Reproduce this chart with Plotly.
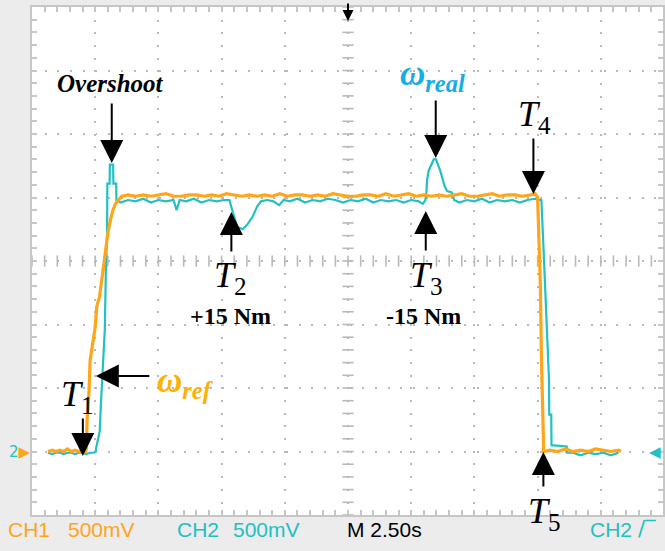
import numpy as np
import plotly.graph_objects as go

# ---------------- data (time in s, voltage in V) ----------------
ORANGE_T = [0.63, 0.8, 0.95, 1.1, 1.25, 1.4, 1.55, 1.7, 1.85, 2.0, 2.12,
            2.15, 2.18, 2.25, 2.30, 2.42, 2.50, 2.56, 2.67, 2.78, 2.86, 2.94, 3.00, 3.10, 3.20, 3.30, 3.42, 3.55,
            3.8, 4.1, 4.4, 4.7, 5.0, 5.3, 5.6, 5.9, 6.2, 6.5, 6.8, 7.1, 7.4, 7.7, 8.0, 8.3, 8.6, 8.9, 9.2, 9.5,
            9.8, 10.1, 10.4, 10.7, 11.0, 11.3, 11.6, 11.9, 12.2, 12.5, 12.8, 13.1, 13.4, 13.7, 14.0, 14.3, 14.6,
            14.9, 15.2, 15.5, 15.8, 16.1, 16.4, 16.7, 17.0, 17.3, 17.6, 17.9, 18.2, 18.5, 18.8, 19.1, 19.4, 19.7, 19.9,
            20.0, 20.03, 20.11, 20.15, 20.24,
            20.5, 20.8, 21.1, 21.4, 21.7, 22.0, 22.3, 22.6, 22.9, 23.2, 23.3]
ORANGE_V = [0.0, 0.01, 0.0, 0.01, 0.0, 0.02, 0.0, 0.01, 0.0, 0.01, 0.0,
            0.02, 0.25, 0.45, 0.72, 0.88, 0.98, 1.14, 1.22, 1.38, 1.51, 1.62, 1.72, 1.82, 1.90, 1.95, 1.98, 2.01,
            2.02, 2.01, 2.02, 2.01, 2.02, 2.03, 2.01, 2.01, 2.02, 2.02, 2.01, 2.02, 2.01, 2.03, 2.02, 2.01, 2.02,
            2.01, 2.02, 2.01, 2.03, 2.01, 2.02, 2.02, 2.01, 2.02, 2.01, 2.03, 2.02, 2.01, 2.01, 2.02, 2.02, 2.01,
            2.03, 2.01, 2.02, 2.03, 2.01, 2.02, 2.01, 2.02, 2.01, 2.02, 2.03, 2.01, 2.01, 2.02, 2.03, 2.01, 2.02,
            2.02, 2.01, 2.02, 2.03,
            2.00, 1.84, 1.30, 0.75, 0.0,
            0.01, 0.0, 0.02, 0.0, 0.01, 0.0, 0.02, 0.01, 0.0, 0.01, 0.0]

CYAN_T = [0.63, 0.8, 0.95, 1.1, 1.25, 1.4, 1.55, 1.7, 1.85, 2.0, 2.15, 2.3, 2.45,
          2.52, 2.55, 2.62, 2.68, 2.72, 2.75, 2.80, 2.85, 2.88, 2.92, 2.95, 2.97, 2.98, 3.07, 3.08, 3.21, 3.22,
          3.33, 3.34,
          3.5, 3.8, 4.1, 4.4, 4.7, 5.0, 5.3, 5.6, 5.72, 5.84, 6.1, 6.4, 6.7, 7.0, 7.3, 7.6,
          7.81, 7.95, 8.12, 8.33, 8.53, 8.73, 8.91, 9.06, 9.3, 9.55, 9.78, 9.95,
          10.2, 10.5, 10.8, 11.1, 11.4, 11.7, 12.0, 12.3, 12.6, 12.9, 13.2, 13.5, 13.8, 14.1, 14.4, 14.7, 15.0,
          15.3, 15.46,
          15.56, 15.6, 15.63, 15.69, 15.8, 15.89, 15.98, 16.06, 16.15, 16.25, 16.32, 16.42, 16.6, 16.7,
          16.9, 17.2, 17.5, 17.8, 18.1, 18.4, 18.7, 19.0, 19.3, 19.6, 19.9, 20.1,
          20.15, 20.23, 20.31, 20.39, 20.45, 20.46, 20.54, 20.55, 21.15, 21.17,
          21.4, 21.7, 22.0, 22.3, 22.6, 22.9, 23.2]
CYAN_V = [-0.01, -0.02, -0.01, -0.01, -0.02, -0.01, -0.01, -0.02, -0.01, -0.01, -0.02, -0.01, -0.01,
          0.0, 0.04, 0.10, 0.16, 0.35, 0.49, 0.70, 0.85, 0.96, 1.41, 1.60, 1.72, 2.11, 2.11, 2.26, 2.26, 2.11,
          2.11, 1.98,
          1.96, 1.98, 1.97, 1.99, 1.96, 1.98, 1.97, 1.98, 1.90, 1.98, 1.97, 1.99, 1.96, 1.98, 1.97, 1.98,
          1.98, 1.88, 1.77, 1.75, 1.79, 1.85, 1.93, 1.97, 1.98, 1.97, 1.94, 1.98,
          1.97, 1.99, 1.96, 1.98, 1.97, 1.99, 1.98, 1.96, 1.98, 1.97, 1.99, 1.96, 1.98, 1.97, 1.98, 1.96, 1.98,
          1.97, 1.95,
          1.98, 2.04, 2.14, 2.21, 2.26, 2.30, 2.30, 2.26, 2.21, 2.14, 2.09, 2.05, 2.04, 1.98,
          1.96, 1.98, 1.97, 1.99, 1.96, 1.98, 1.97, 1.98, 1.96, 1.98, 1.99, 1.98,
          1.98, 1.62, 1.26, 0.80, 0.57, 0.29, 0.29, 0.05, 0.04, -0.01,
          -0.01, -0.03, -0.01, -0.02, -0.01, -0.03, -0.01]

FOOTER_TEXTS = ["CH1", "500mV", "CH2", "500mV", "M 2.50s", "CH2"]

# ---------------- styling / layout ----------------
W, H = 665, 551
L_PX, R_PX, T_PX, B_PX = 32, 665, 7, 515
X_RANGE = [0, 24.96]
Y_RANGE = [-0.5, 3.5]
DIV_X, DIV_Y = 2.5, 0.5

ORANGE = "#FFA51A"
CYAN = "#22C0C2"
REAL_BLUE = "#14ADE6"
REF_ORANGE = "#FFB000"
GRID = "#b9b9b9"
BORDER = "#c6c6c6"


def px(xp):
    return (xp - L_PX) / (R_PX - L_PX)


def py(yp):
    return (B_PX - yp) / (B_PX - T_PX)


fig = go.Figure()

# center graticule tick marks (decorations)
cx = (X_RANGE[0] + 5 * DIV_X)
cy = 1.5
yy = np.arange(Y_RANGE[0], Y_RANGE[1] + 1e-9, DIV_Y / 5)
xx = np.arange(0, X_RANGE[1] + 1e-9, DIV_X / 5)
fig.add_trace(go.Scatter(x=[cx] * len(yy), y=yy, mode="markers", hoverinfo="skip",
                         marker=dict(symbol="line-ew", size=8, line=dict(color=GRID, width=1.6))))
fig.add_trace(go.Scatter(x=xx, y=[cy] * len(xx), mode="markers", hoverinfo="skip",
                         marker=dict(symbol="line-ns", size=8, line=dict(color=GRID, width=1.6))))

fig.add_trace(go.Scatter(x=CYAN_T, y=CYAN_V, mode="lines", hoverinfo="skip",
                         line=dict(color=CYAN, width=2.2)))
fig.add_trace(go.Scatter(x=ORANGE_T, y=ORANGE_V, mode="lines", hoverinfo="skip",
                         line=dict(color=ORANGE, width=3.2)))

axis_common = dict(showticklabels=False, zeroline=False, showline=True, linecolor=BORDER, linewidth=2,
                   mirror="allticks", ticks="inside", ticklen=5, tickwidth=1.5, tickcolor=BORDER,
                   showgrid=True, gridcolor=GRID, gridwidth=2, fixedrange=True)

fig.update_xaxes(range=X_RANGE, tick0=0, dtick=DIV_X, griddash="2px,10.68px",
                 minor=dict(dtick=DIV_X / 5, ticks="inside", ticklen=5, tickwidth=1.5, tickcolor=BORDER,
                            showgrid=False), **axis_common)
fig.update_yaxes(range=Y_RANGE, tick0=0, dtick=DIV_Y, griddash="2px,10.7px",
                 minor=dict(dtick=DIV_Y / 5, ticks="inside", ticklen=5, tickwidth=1.5, tickcolor=BORDER,
                            showgrid=False), **axis_common)

ann = []
SERIF = "Liberation Serif"


def text(xp, yp, s, size, color="black", family=SERIF, xanchor="center"):
    ann.append(dict(x=px(xp), y=py(yp), xref="paper", yref="paper", text=s, showarrow=False,
                    xanchor=xanchor, yanchor="middle", font=dict(size=size, color=color, family=family)))


def arrow(x0, y0, x1, y1, size=2.3, width=2, color="black"):
    ann.append(dict(x=px(x1), y=py(y1), xref="paper", yref="paper", text="", showarrow=True,
                    ax=x0 - x1, ay=y0 - y1, axref="pixel", ayref="pixel",
                    arrowhead=2, arrowsize=size, arrowwidth=width, arrowcolor=color, standoff=0))


# labels
text(111, 84, "<b><i>Overshoot</i></b>", 25)
text(434, 76, "<b><i>ω</i></b><sub><b><i>real</i></b></sub>", 35, REAL_BLUE)
text(186, 382, "<b><i>ω</i></b><sub><b><i>ref</i></b></sub>", 35, REF_ORANGE)
text(78, 396, "<i>T</i><sub>1</sub>", 36)
text(231, 277, "<i>T</i><sub>2</sub>", 36)
text(428, 277, "<i>T</i><sub>3</sub>", 36)
text(536, 117, "<i>T</i><sub>4</sub>", 36)
text(546, 513, "<i>T</i><sub>5</sub>", 36)
text(231, 316, "<b>+15 Nm</b>", 24)
text(425, 316, "<b>-15 Nm</b>", 24)

# arrows
arrow(112, 102, 112, 163)
arrow(437, 99, 437, 158)
arrow(535, 137, 535, 194)
arrow(232, 253, 232, 212)
arrow(427, 252, 427, 211)
arrow(83, 417, 83, 456)
arrow(151, 376, 96, 376)
arrow(545, 488, 545, 452)
arrow(349, 2, 349, 21, size=1.1, width=2)

# footer
SANS = "Liberation Sans"
foot_pos = [6, 66, 175, 232, 346, 590]
foot_col = [ORANGE, ORANGE, CYAN, CYAN, "black", CYAN]
for s, xp, c in zip(FOOTER_TEXTS, foot_pos, foot_col):
    text(xp, 529, s, 21, c, SANS, xanchor="left")
text(638, 529, "/\u203e", 21, CYAN, "DejaVu Sans", xanchor="left")

# ground / trigger markers
text(7, 452, "2<span style='color:%s'>\u25b6</span>" % ORANGE, 15, CYAN, "DejaVu Sans", xanchor="left")
text(657, 452, "\u25c0", 15, CYAN, "DejaVu Sans")

fig.update_layout(width=W, height=H, margin=dict(l=L_PX, r=W - R_PX, t=T_PX, b=H - B_PX),
                  paper_bgcolor="#ececec", plot_bgcolor="white", showlegend=False,
                  annotations=ann)

fig.write_html("out.html")
